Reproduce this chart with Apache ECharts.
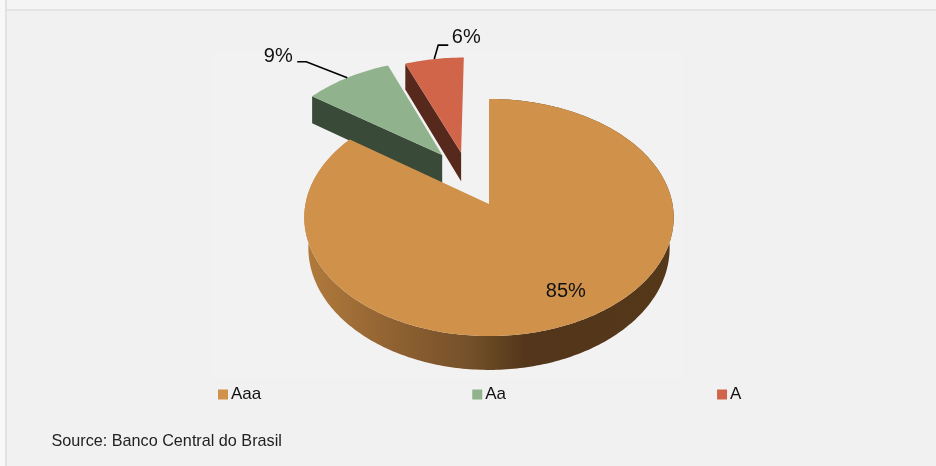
<!DOCTYPE html>
<html>
<head>
<meta charset="utf-8">
<style>html,body{margin:0;padding:0;background:#f1f1f1}#chart{width:936px;height:466px}</style>
<script src="https://cdn.jsdelivr.net/npm/echarts@6/dist/echarts.min.js"></script>
</head>
<body>
<div id="chart"></div>
<script>
// Credit rating shares
const categories = ['Aaa', 'Aa', 'A'];
const shares = [85, 9, 6];

// Face colours for each rating
const topColors = ['#d0924b', '#90b28c', '#d0654a'];
const wallColors = [null, '#3a4a38', '#57281c'];

// Perspective disc: centre, radii, height, foreshortening and base narrowing
const disc = { cx: 489, cy: 204, rx: 183.5, ry: 117, k: 0.114, depth: 30, baseScale: 0.978 };
// How far each slice is pulled out, in disc units
const explode = [[0, 0], [-0.268, -0.44], [-0.16, -0.46]];

const total = shares.reduce((a, b) => a + b, 0);
const project = (u, v, drop) => {
  const w = 1 - disc.k * v;
  const narrow = drop ? disc.baseScale : 1;
  return [disc.cx + narrow * disc.rx * u / w, disc.cy + (disc.ry * v + (drop || 0)) / w];
};

function sliceAngles(index) {
  const before = shares.slice(0, index).reduce((a, b) => a + b, 0);
  return [before / total * Math.PI * 2, (before + shares[index]) / total * Math.PI * 2];
}

function rim(index, a0, a1, drop) {
  const [ox, oy] = explode[index];
  const steps = Math.max(2, Math.round((a1 - a0) * 60));
  const pts = [];
  for (let i = 0; i <= steps; i++) {
    const t = a0 + (a1 - a0) * i / steps;
    pts.push(project(ox + Math.sin(t), oy - Math.cos(t), drop));
  }
  return pts;
}

// Leader line bends and label anchors, relative to the slice's rim midpoint
const leaders = [null, { bend: [[-41, -16], [-50, -16]], label: [-69, -21] }, { bend: [[4, -14], [14, -14]], label: [32, -22] }];
const insideLabelAt = [0.386, 0.69];

function renderSlice(params, api) {
  const index = params.seriesIndex;
  const value = api.value(0);
  const [a0, a1] = sliceAngles(index);
  const [ox, oy] = explode[index];
  const apex = project(ox, oy);
  const children = [];

  if (index === 0) {
    // Curved outer wall with light falling from the left
    const top = rim(index, a0, a1);
    const low = rim(index, a0, a1, disc.depth).reverse();
    children.push({
      type: 'polygon',
      shape: { points: top.concat(low) },
      style: {
        fill: {
          type: 'linear', x: 0, y: 0, x2: 1, y2: 0,
          colorStops: [
            { offset: 0, color: '#b27b3c' },
            { offset: 0.26, color: '#8d6031' },
            { offset: 0.45, color: '#74502a' },
            { offset: 0.53, color: '#62421f' },
            { offset: 0.6, color: '#53361b' },
            { offset: 1, color: '#553819' }
          ]
        }
      }
    });
  } else {
    // Straight cut face along the slice's leading edge; the drop here stays at full width
    const ux = ox + Math.sin(a0), vy = oy - Math.cos(a0);
    const outer = project(ux, vy);
    const apexLow = [apex[0], project(ox, oy, disc.depth)[1]];
    const outerLow = [outer[0], project(ux, vy, disc.depth)[1]];
    children.push({
      type: 'polygon',
      shape: { points: [apex, outer, outerLow, apexLow] },
      style: { fill: wallColors[index] }
    });
  }

  children.push({
    type: 'polygon',
    shape: { points: [apex].concat(rim(index, a0, a1)) },
    style: { fill: topColors[index] }
  });

  const text = value + '%';
  const labelStyle = { text, fill: '#111', font: '20px "Liberation Sans", Arial, sans-serif', align: 'center', verticalAlign: 'middle' };
  if (leaders[index]) {
    const mid = (a0 + a1) / 2;
    const p = project(ox + Math.sin(mid), oy - Math.cos(mid));
    const lead = leaders[index];
    children.push({
      type: 'polyline',
      shape: { points: [p].concat(lead.bend.map(d => [p[0] + d[0], p[1] + d[1]])) },
      style: { stroke: '#000', lineWidth: 1.6, fill: null }
    });
    children.push({ type: 'text', style: Object.assign({ x: p[0] + lead.label[0], y: p[1] + lead.label[1] }, labelStyle) });
  } else {
    const p = project(insideLabelAt[0], insideLabelAt[1]);
    children.push({ type: 'text', style: Object.assign({ x: p[0], y: p[1] }, labelStyle) });
  }
  return { type: 'group', children };
}

// Later ratings sit behind the large slice
const stacking = [4, 3, 2];

const chart = echarts.init(document.getElementById('chart'), null, { renderer: 'canvas' });
chart.setOption({
  animation: false,
  backgroundColor: '#f1f1f1',
  title: {
    text: 'Source: Banco Central do Brasil',
    left: 51.5, top: 433.5,
    padding: 0,
    textStyle: { color: '#222', fontWeight: 'normal', fontSize: 16.2, fontFamily: '"Liberation Sans", Arial, sans-serif' }
  },
  legend: {
    left: 218, top: 386,
    padding: 0,
    itemWidth: 10, itemHeight: 10, itemGap: 211,
    icon: 'rect',
    textStyle: { color: '#111', fontSize: 17, fontFamily: '"Liberation Sans", Arial, sans-serif', padding: [0, 0, 0, -2] },
    data: categories
  },
  graphic: [
    { type: 'rect', z: -10, shape: { x: 0, y: 0, width: 936, height: 10 }, style: { fill: '#f4f4f4' } },
    { type: 'rect', z: -10, shape: { x: 0, y: 0, width: 5, height: 466 }, style: { fill: '#f8f8f8' } },
    { type: 'rect', z: -9, shape: { x: 5, y: 9, width: 931, height: 2 }, style: { fill: '#e4e4e4' } },
    { type: 'rect', z: -9, shape: { x: 5, y: 0, width: 2, height: 466 }, style: { fill: '#e2e2e2' } },
    { type: 'rect', z: -9, shape: { x: 212, y: 52, width: 470, height: 326 }, style: { fill: '#f2f2f2' } }
  ],
  series: categories.map((name, i) => ({
    type: 'custom',
    name,
    coordinateSystem: 'none',
    z: stacking[i],
    itemStyle: { color: topColors[i] },
    renderItem: renderSlice,
    data: [[shares[i]]]
  }))
});
</script>
</body>
</html>
